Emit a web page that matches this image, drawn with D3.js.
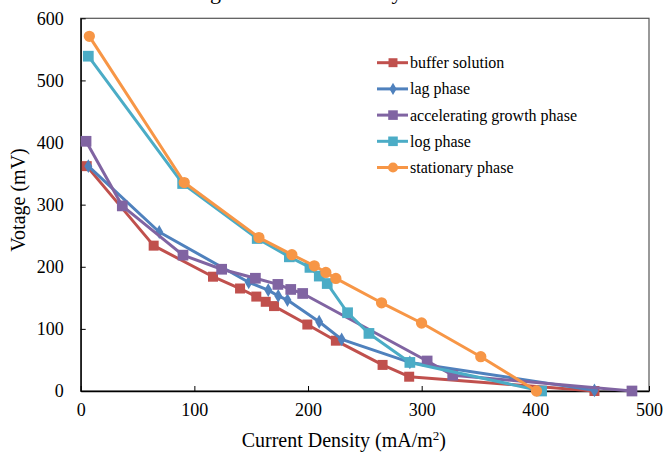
<!DOCTYPE html>
<html>
<head>
<meta charset="utf-8">
<script src="https://cdn.jsdelivr.net/npm/d3@7"></script>
<style>
  body { margin: 0; background: #fff; }
  text { font-family: "Liberation Serif", "Times New Roman", serif; }
</style>
</head>
<body>
<div id="chart"></div>
<script>
// polarization curves

var seriesNames = ["buffer solution", "lag phase", "accelerating growth phase", "log phase", "stationary phase"];

var bufferX = [5.3, 64.2, 116.4, 140.2, 154.5, 162.8, 170.1, 199.4, 224.5, 265.6, 289, 452];
var bufferY = [362, 234, 184, 165, 152, 143.6, 136.7, 107, 81, 42, 23, 0];

var lagX = [6.7, 69.1, 147.8, 165, 173.8, 181.9, 209.8, 229.6, 289.6, 452];
var lagY = [362, 256, 175, 162.4, 153, 146.4, 111.5, 83, 46, 1];

var accelX = [4.7, 36.6, 90, 124, 153.7, 173.5, 184.8, 195.3, 304.8, 327.3, 485];
var accelY = [402, 298, 218.7, 196, 181.5, 171.6, 163.5, 157, 48.3, 25.5, 0];

var logX = [6.7, 89.7, 155.3, 183.6, 201.7, 209.9, 216.9, 234.8, 253.6, 289.6, 405.5];
var logY = [539, 334, 245.5, 216, 199, 185, 173, 126, 92.7, 46, 0];

var statX = [7.6, 91.1, 156.8, 185.8, 205.5, 215.7, 224.5, 264.7, 299.9, 352, 401];
var statY = [571, 335.6, 247, 219.5, 201.6, 190.9, 181.2, 142, 109.5, 55.2, 0];

var xTicks = [0, 100, 200, 300, 400, 500];
var yTicks = [0, 100, 200, 300, 400, 500, 600];

var colors = ["#C0504D", "#4F81BD", "#8064A2", "#4BACC6", "#F79646"];
var shapes = [d3.symbolSquare, d3.symbolDiamond, d3.symbolSquare, d3.symbolSquare, d3.symbolCircle];
var sizes = [100, 55, 115, 115, 100];

var allX = [bufferX, lagX, accelX, logX, statX];
var allY = [bufferY, lagY, accelY, logY, statY];

var series = seriesNames.map(function(name, i) {
  return {
    name: name,
    points: allX[i].map(function(x, j) { return [x, allY[i][j]]; })
  };
});

var width = 665,
    height = 455;
var margin = {top: 18.3, right: 16, bottom: 64, left: 80.7};
var serif = "Liberation Serif, Times New Roman, serif";

var svg = d3.select("#chart").append("svg")
    .attr("width", width)
    .attr("height", height)
    .attr("font-family", serif);

var x = d3.scaleLinear()
    .domain([0, 500])
    .range([margin.left, width - margin.right]);

var y = d3.scaleLinear()
    .domain([0, 600])
    .range([height - margin.bottom, margin.top]);

// title mostly cut off at the top edge, as in the picture
svg.append("text")
    .attr("x", 164)
    .attr("y", -1)
    .style("font-size", "22px")
    .text("Voltage vs Current Density");

// frame
svg.append("rect")
    .attr("x", margin.left)
    .attr("y", margin.top)
    .attr("width", x(500) - margin.left)
    .attr("height", y(0) - margin.top)
    .attr("fill", "none")
    .style("stroke", "#555")
    .style("stroke-width", "1.2px");

var xAxis = svg.append("g")
    .attr("transform", "translate(0," + y(0) + ")")
    .call(d3.axisBottom(x).tickValues(xTicks).tickSize(-5).tickPadding(12).tickSizeOuter(0));

var yAxis = svg.append("g")
    .attr("transform", "translate(" + margin.left + ",0)")
    .call(d3.axisLeft(y).tickValues(yTicks).tickSize(-5).tickPadding(17).tickSizeOuter(0));

[xAxis, yAxis].forEach(function(a) {
  a.attr("font-family", serif).attr("font-size", 18);
  a.select(".domain").style("stroke", "#000").style("stroke-width", "1.3px");
  a.selectAll(".tick line").style("stroke", "#000");
  a.selectAll(".tick text")
    .attr("font-family", serif)
    .attr("fill", "#000");
});

// axis titles
var xTitle = svg.append("text")
    .attr("x", (margin.left + x(500)) / 2 - 21)
    .attr("y", 447)
    .attr("text-anchor", "middle")
    .style("font-size", "20px");
xTitle.append("tspan").text("Current Density (mA/m");
xTitle.append("tspan").attr("dy", -7).style("font-size", "13px").text("2");
xTitle.append("tspan").attr("dy", 7).text(")");

svg.append("text")
    .attr("transform", "translate(25," + 200 + ") rotate(-90)")
    .attr("text-anchor", "middle")
    .style("font-size", "20px")
    .text("Votage (mV)");

var line = d3.line()
    .x(function(d) { return x(d[0]); })
    .y(function(d) { return y(d[1]); });

series.forEach(function(s, i) {
  var g = svg.append("g");
  g.append("path")
    .datum(s.points)
    .attr("d", line)
    .attr("fill", "none")
    .style("stroke", colors[i])
    .style("stroke-width", "3px")
    .style("stroke-linejoin", "round");
  g.selectAll("path.mark")
    .data(s.points)
    .enter().append("path")
    .attr("class", "mark")
    .attr("transform", function(d) { return "translate(" + x(d[0]) + "," + y(d[1]) + ")"; })
    .attr("d", d3.symbol().type(shapes[i]).size(sizes[i]))
    .attr("fill", colors[i]);
});

// legend
var legend = svg.selectAll("g.legend")
    .data(series)
    .enter().append("g")
    .attr("class", "legend")
    .attr("transform", function(d, i) { return "translate(377," + (62.7 + i * 26.2) + ")"; });

legend.append("line")
    .attr("x1", 0)
    .attr("x2", 31)
    .style("stroke", function(d, i) { return colors[i]; })
    .style("stroke-width", "3px");

legend.append("path")
    .attr("transform", "translate(16,0)")
    .attr("d", function(d, i) { return d3.symbol().type(shapes[i]).size(sizes[i] * 0.8)(); })
    .attr("fill", function(d, i) { return colors[i]; });

legend.append("text")
    .attr("x", 33)
    .attr("y", 5.5)
    .style("font-size", "16px")
    .text(function(d) { return d.name; });
</script>
</body>
</html>
